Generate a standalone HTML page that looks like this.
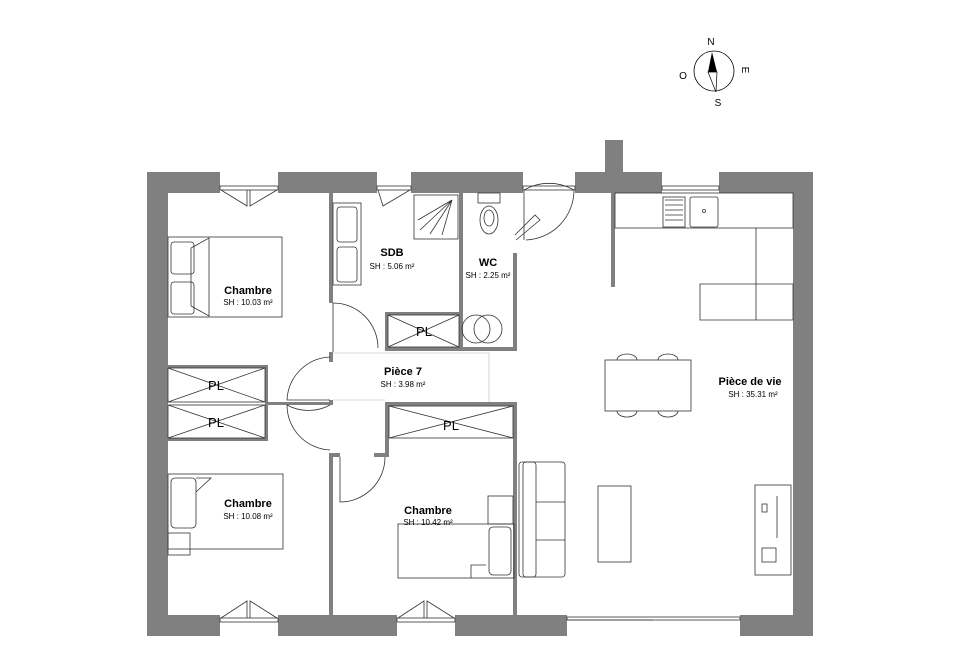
<!DOCTYPE html>
<html><head><meta charset="utf-8"><style>
html,body{margin:0;padding:0;background:#fff;}
svg{display:block;}
text{font-family:"Liberation Sans",sans-serif;fill:#000;}
.t{font-weight:bold;font-size:11px;text-anchor:middle;}
.s{font-size:8px;text-anchor:middle;}
.pl{font-size:13px;text-anchor:middle;}
</style></head><body>
<svg width="960" height="665" viewBox="0 0 960 665" xmlns="http://www.w3.org/2000/svg">
<rect width="960" height="665" fill="#fff"/>
<!-- compass -->
<circle cx="714" cy="71" r="20" fill="none" stroke="#000" stroke-width="0.8"/>
<polygon points="712,52 708,72 717,72" fill="#000"/>
<polygon points="708,72 717,72 716,92" fill="#fff" stroke="#000" stroke-width="0.7"/>
<text x="711" y="45" font-size="10" text-anchor="middle">N</text>
<text x="746" y="74" font-size="10" text-anchor="middle" transform="rotate(90 746 70)">E</text>
<text x="718" y="106" font-size="10" text-anchor="middle">S</text>
<text x="683" y="79" font-size="10" text-anchor="middle">O</text>

<g fill="#808080">
<!-- outer walls -->
<rect x="147" y="172" width="21" height="464"/>
<rect x="793" y="172" width="20" height="464"/>
<rect x="147" y="172" width="73" height="21"/>
<rect x="278" y="172" width="99" height="21"/>
<rect x="411" y="172" width="112" height="21"/>
<rect x="575" y="172" width="87" height="21"/>
<rect x="719" y="172" width="94" height="21"/>
<rect x="605" y="140" width="18" height="33"/>
<rect x="147" y="615" width="73" height="21"/>
<rect x="278" y="615" width="119" height="21"/>
<rect x="455" y="615" width="112" height="21"/>
<rect x="740" y="615" width="73" height="21"/>
<!-- interior walls -->
<rect x="329" y="193" width="4" height="110"/>
<rect x="329" y="352" width="4" height="10"/>
<rect x="329" y="400" width="4" height="5"/>
<rect x="268" y="402" width="65" height="3"/>
<rect x="329" y="453" width="4" height="162"/>
<rect x="329" y="453" width="11" height="4"/>
<rect x="459" y="193" width="4" height="157"/>
<rect x="513" y="253" width="4" height="97"/>
<rect x="385" y="347" width="132" height="4"/>
<rect x="385" y="312" width="78" height="3"/>
<rect x="385" y="312" width="3" height="38"/>
<rect x="385" y="402" width="131" height="4"/>
<rect x="385" y="402" width="4" height="55"/>
<rect x="374" y="453" width="15" height="4"/>
<rect x="513" y="402" width="4" height="213"/>
<rect x="611" y="193" width="4" height="94"/>
<rect x="166" y="365" width="102" height="3"/>
<rect x="265" y="365" width="3" height="75"/>
<rect x="166" y="438" width="102" height="3"/>
</g>

<g fill="none" stroke="#333" stroke-width="0.8">
<!-- windows top -->
<rect x="220" y="186" width="58" height="4"/>
<path d="M221 190 L247 206 L247 190 M277 190 L250 206 L250 190"/>
<rect x="377" y="186" width="34" height="4"/>
<path d="M378 190 L383 206 L410 190"/>
<rect x="523" y="186" width="52" height="4"/>
<path d="M524 190 L524 240 M524 190 A50 50 0 0 1 574 190 A50 50 0 0 1 526 240"/>
<path d="M516 240 L540 220 L535 215 L515 235"/>
<rect x="662" y="186" width="57" height="4"/>
<!-- bottom windows -->
<rect x="220" y="618" width="58" height="4"/>
<path d="M221 618 L247 601 L247 618 M277 618 L250 601 L250 618"/>
<rect x="397" y="618" width="58" height="4"/>
<path d="M398 618 L424 601 L424 618 M454 618 L427 601 L427 618"/>
<rect x="567" y="617" width="173" height="3"/>
<line x1="567" y1="620" x2="653" y2="620"/>
<!-- doors -->
<path d="M333 303 L333 352 M333 303 A45 45 0 0 1 378 348"/>
<path d="M330 357 A45 45 0 0 0 287 400 L330 400"/>
<path d="M330 405 A45 45 0 0 1 287 405 A45 45 0 0 0 330 450"/>
<path d="M340 457 L340 502 A45 45 0 0 0 385 457"/>
<!-- PL closets -->
<rect x="168" y="368" width="97" height="34"/>
<path d="M168 368 L265 402 M265 368 L168 402"/>
<rect x="168" y="405" width="97" height="33"/>
<path d="M168 405 L265 438 M265 405 L168 438"/>
<rect x="388" y="315" width="71" height="32"/>
<path d="M388 315 L459 347 M459 315 L388 347"/>
<rect x="389" y="406" width="124" height="32"/>
<path d="M389 406 L513 438 M513 406 L389 438"/>
<!-- bed chambre 1 -->
<rect x="168" y="237" width="114" height="80"/>
<rect x="171" y="242" width="23" height="32" rx="3"/>
<rect x="171" y="282" width="23" height="32" rx="3"/>
<path d="M191 248 L209 238 L209 316 L191 306 M191 248 L191 306"/>
<!-- sinks -->
<rect x="333" y="203" width="28" height="82"/>
<rect x="337" y="207" width="20" height="35" rx="3"/>
<rect x="337" y="247" width="20" height="35" rx="3"/>
<!-- shower -->
<rect x="414" y="195" width="44" height="44"/>
<path d="M452 200 L420 230 M452 200 L430 234 M452 200 L442 235 M452 200 L418 220"/>
<!-- toilet -->
<rect x="478" y="193" width="22" height="10"/>
<ellipse cx="489" cy="220" rx="9" ry="14"/>
<ellipse cx="489" cy="218" rx="5" ry="8"/>
<circle cx="476" cy="329" r="14"/>
<circle cx="488" cy="329" r="14"/>
<!-- Pièce 7 dashed -->
<line x1="333" y1="353" x2="489" y2="353" stroke="#ccc"/>
<line x1="489" y1="353" x2="489" y2="402" stroke="#ccc"/>
<line x1="333" y1="400" x2="385" y2="400" stroke="#ccc"/>
<!-- kitchen -->
<rect x="615" y="193" width="178" height="35"/>
<rect x="663" y="197" width="22" height="30"/>
<path d="M665 200 h18 M665 205 h18 M665 210 h18 M665 215 h18 M665 220 h18"/>
<rect x="690" y="197" width="28" height="30" rx="2"/>
<circle cx="704" cy="211" r="1.5"/>
<path d="M756 228 L756 320 M700 284 L793 284 L793 320 L700 320 Z"/>
<!-- table -->
<rect x="605" y="360" width="86" height="51"/>
<path d="M617 360 A10 6 0 0 1 637 360 M658 360 A10 6 0 0 1 678 360 M617 411 A10 6 0 0 0 637 411 M658 411 A10 6 0 0 0 678 411"/>
<!-- sofa -->
<rect x="519" y="462" width="17" height="115" rx="3"/>
<rect x="523" y="462" width="42" height="115" rx="3"/>
<path d="M536 502 L565 502 M536 540 L565 540"/>
<!-- coffee table -->
<rect x="598" y="486" width="33" height="76"/>
<!-- tv unit -->
<rect x="755" y="485" width="36" height="90"/>
<line x1="777" y1="496" x2="777" y2="538"/>
<rect x="762" y="548" width="14" height="14"/>
<rect x="762" y="504" width="5" height="8"/>
<!-- bed chambre 2 -->
<rect x="168" y="474" width="115" height="75"/>
<rect x="171" y="478" width="25" height="50" rx="4"/>
<path d="M196 478 L211 478 L196 492"/>
<rect x="168" y="533" width="22" height="22"/>
<!-- bed chambre 3 -->
<rect x="398" y="524" width="116" height="54"/>
<rect x="488" y="496" width="25" height="28"/>
<rect x="489" y="527" width="22" height="48" rx="4"/>
<path d="M471 578 L471 565 L486 565"/>
</g>

<text class="t" x="248" y="294">Chambre</text>
<text class="s" x="248" y="305">SH : 10.03 m²</text>
<text class="t" x="392" y="256">SDB</text>
<text class="s" x="392" y="269">SH : 5.06 m²</text>
<text class="t" x="488" y="266">WC</text>
<text class="s" x="488" y="278">SH : 2.25 m²</text>
<text class="t" x="403" y="375">Pièce 7</text>
<text class="s" x="403" y="387">SH : 3.98 m²</text>
<text class="t" x="750" y="385">Pièce de vie</text>
<text class="s" x="753" y="397">SH : 35.31 m²</text>
<text class="t" x="248" y="507">Chambre</text>
<text class="s" x="248" y="519">SH : 10.08 m²</text>
<text class="t" x="428" y="514">Chambre</text>
<text class="s" x="428" y="525">SH : 10.42 m²</text>
<text class="pl" x="216" y="390">PL</text>
<text class="pl" x="216" y="427">PL</text>
<text class="pl" x="424" y="336">PL</text>
<text class="pl" x="451" y="430">PL</text>
</svg>
</body></html>
